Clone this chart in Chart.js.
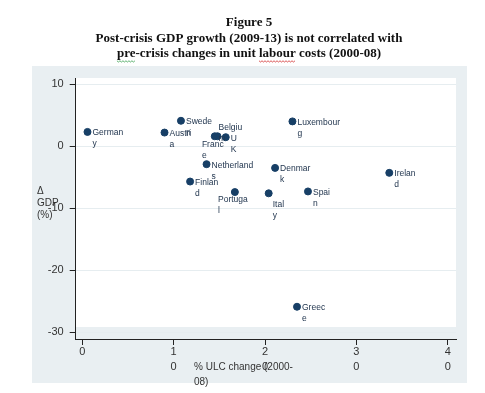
<!DOCTYPE html>
<html>
<head>
<meta charset="utf-8">
<script src="https://cdn.jsdelivr.net/npm/chart.js@4.4.1/dist/chart.umd.min.js"></script>
<style>
  html, body { margin: 0; padding: 0; background: #ffffff; }
  #wrap { width: 485px; height: 393px; position: relative; }
</style>
</head>
<body>
<div id="wrap"><canvas id="c" width="485" height="393"></canvas></div>
<script>
// ---- data ----
const titleLines = ["Figure 5", "Post-crisis GDP growth (2009-13) is not correlated with", "pre-crisis changes in unit labour costs (2000-08)"];
const countries = ["Germany","Austria","Sweden","Belgium","France","UK","Luxembourg","Netherlands","Denmark","Finland","Spain","Portugal","Italy","Ireland","Greece"];
const ulcChange = [0.57, 9.0, 10.8, 14.8, 14.5, 15.7, 23.0, 13.6, 21.1, 11.8, 24.7, 16.7, 20.4, 33.6, 23.5];
const gdpChange = [2.3, 2.2, 4.1, 1.6, 1.6, 1.45, 4.0, -2.9, -3.5, -5.7, -7.3, -7.4, -7.6, -4.3, -25.9];
const xTicks = [0, 10, 20, 30, 40];
const xTickLabels = [["0"], ["1","0"], ["2","0"], ["3","0"], ["4","0"]];
const yTicks = [-30, -20, -10, 0, 10];
const yTickLabels = ["-30", "-20", "-10", "0", "10"];
const xTitleLines = ["% ULC change (2000-", "08)"];
const yTitleLines = ["\u0394", "GDP", "(%)"];

// label placement (style only): r = right, ur = upper right, b = below, br = below right
const labelPlacement = ["r","r","r","ur","b","r","r","r","r","r","r","b","br","r","r"];

const points = countries.map((c, i) => ({ x: ulcChange[i], y: gdpChange[i] }));

const panelPlugin = {
  id: 'panels',
  beforeDraw(chart) {
    const ctx = chart.ctx, a = chart.chartArea;
    ctx.save();
    ctx.fillStyle = '#e9eff2';
    ctx.fillRect(32, 66, 435, 317);
    ctx.fillStyle = '#ffffff';
    ctx.fillRect(a.left, a.top, a.right - a.left, a.bottom - a.top - 12);
    ctx.restore();
  },
  afterDraw(chart) {
    const ctx = chart.ctx, a = chart.chartArea;
    ctx.save();
    // title
    ctx.fillStyle = '#111';
    ctx.font = 'bold 13px "Liberation Serif", "Times New Roman", serif';
    ctx.textAlign = 'center';
    ctx.textBaseline = 'middle';
    const ty = [23, 38.5, 54];
    titleLines.forEach((t, i) => ctx.fillText(t, 249, ty[i]));
    // spell-check squiggles
    function squiggle(x0, x1, y, col) {
      ctx.strokeStyle = col; ctx.lineWidth = 0.8; ctx.beginPath();
      for (let x = x0, k = 0; x <= x1; x += 1.5, k++) {
        const yy = y + (k % 2 ? 1 : -0.2);
        if (k === 0) ctx.moveTo(x, yy); else ctx.lineTo(x, yy);
      }
      ctx.stroke();
    }
    const w3 = ctx.measureText(titleLines[2]).width;
    const l3 = 249 - w3 / 2;
    const wPre = ctx.measureText("pre").width;
    squiggle(l3, l3 + wPre, 61, '#3aa050');
    const before = ctx.measureText("pre-crisis changes in unit ").width;
    const wLab = ctx.measureText("labour").width;
    squiggle(l3 + before, l3 + before + wLab, 61, '#d03030');

    // axis titles
    ctx.fillStyle = '#333';
    ctx.font = '10px "Liberation Sans", Arial, sans-serif';
    ctx.textAlign = 'left';
    ctx.textBaseline = 'middle';
    const yt = [191, 203, 215];
    yTitleLines.forEach((t, i) => ctx.fillText(t, 37, yt[i]));
    const xt = [367, 382];
    xTitleLines.forEach((t, i) => ctx.fillText(t, 194, xt[i]));
    ctx.restore();
  },
  afterDatasetsDraw(chart) {
    const ctx = chart.ctx;
    const meta = chart.getDatasetMeta(0);
    ctx.save();
    ctx.font = '8.5px "Liberation Sans", Arial, sans-serif';
    ctx.fillStyle = '#22364f';
    ctx.textAlign = 'left';
    ctx.textBaseline = 'middle';
    meta.data.forEach((el, i) => {
      const name = countries[i];
      const l1 = name.slice(0, -1), l2 = name.slice(-1);
      const w1 = ctx.measureText(l1).width;
      let left, y1, y2;
      const p = labelPlacement[i];
      if (p === 'r') { left = el.x + 5; y1 = el.y + 1; y2 = el.y + 12; }
      else if (p === 'ur') { left = el.x + 1; y1 = el.y - 9; y2 = el.y + 2; }
      else if (p === 'b') { left = el.x - w1 / 2 - 2; y1 = el.y + 8; y2 = el.y + 19; }
      else { left = el.x + 4; y1 = el.y + 11; y2 = el.y + 22; }
      ctx.fillText(l1, left, y1);
      ctx.fillText(l2, left, y2);
    });
    ctx.restore();
  }
};

new Chart(document.getElementById('c'), {
  type: 'scatter',
  data: {
    datasets: [{
      data: points,
      backgroundColor: '#173f66',
      borderColor: '#173f66',
      pointRadius: 3.5,
      pointHoverRadius: 3.5
    }]
  },
  options: {
    responsive: false,
    animation: false,
    events: [],
    layout: { padding: { left: 32, right: 29, top: 78, bottom: 10 } },
    plugins: { legend: { display: false }, tooltip: { enabled: false }, title: { display: false } },
    scales: {
      x: {
        type: 'linear',
        min: -0.72, max: 40.9,
        afterBuildTicks: s => { s.ticks = xTicks.map(v => ({ value: v })); },
        afterFit: s => { s.height = 44; },
        grid: { drawOnChartArea: false, drawTicks: true, tickLength: 6, tickColor: '#222', tickWidth: 1 },
        border: { display: true, color: '#222', width: 1 },
        ticks: {
          color: '#333',
          font: { family: '"Liberation Sans", Arial, sans-serif', size: 11, lineHeight: 1.35 },
          padding: 0,
          maxRotation: 0,
          autoSkip: false,
          callback: (v) => { const i = xTicks.indexOf(v); return i >= 0 ? xTickLabels[i] : ''; }
        }
      },
      y: {
        type: 'linear',
        min: -31.1, max: 11.0,
        afterBuildTicks: s => { s.ticks = yTicks.map(v => ({ value: v })); },
        afterFit: s => { s.width = 43.7; },
        grid: { drawOnChartArea: true, color: '#e6edf0', lineWidth: 1, drawTicks: true, tickLength: 6, tickColor: '#222', tickWidth: 1 },
        border: { display: true, color: '#222', width: 1 },
        ticks: {
          color: '#333',
          font: { family: '"Liberation Sans", Arial, sans-serif', size: 11 },
          padding: 6,
          autoSkip: false,
          callback: (v) => { const i = yTicks.indexOf(v); return i >= 0 ? yTickLabels[i] : ''; }
        }
      }
    }
  },
  plugins: [panelPlugin]
});
</script>
</body>
</html>
